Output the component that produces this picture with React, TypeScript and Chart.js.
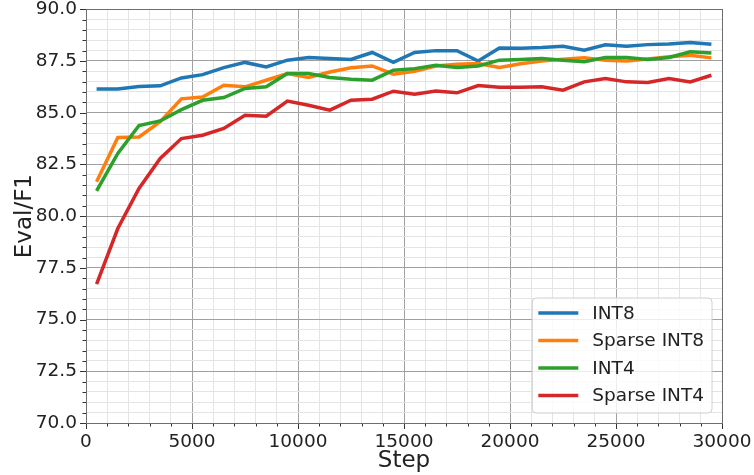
import React, { useEffect, useRef } from 'react';
import { Chart, registerables } from 'chart.js';

Chart.register(...registerables);

const steps = [500, 1500, 2500, 3500, 4500, 5500, 6500, 7500, 8500, 9500, 10500, 11500, 12500, 13500, 14500, 15500, 16500, 17500, 18500, 19500, 20500, 21500, 22500, 23500, 24500, 25500, 26500, 27500, 28500, 29500];

const int8 = [86.14, 86.14, 86.27, 86.3, 86.68, 86.84, 87.18, 87.43, 87.21, 87.54, 87.67, 87.62, 87.57, 87.91, 87.43, 87.91, 88.0, 88.0, 87.5, 88.13, 88.12, 88.15, 88.21, 88.02, 88.28, 88.21, 88.29, 88.32, 88.39, 88.31];
const sparseInt8 = [81.66, 83.8, 83.83, 84.56, 85.67, 85.76, 86.33, 86.25, 86.57, 86.89, 86.7, 86.97, 87.17, 87.26, 86.86, 87.0, 87.26, 87.34, 87.38, 87.18, 87.37, 87.5, 87.58, 87.65, 87.54, 87.5, 87.6, 87.7, 87.78, 87.65];
const int4 = [81.22, 83.03, 84.38, 84.6, 85.15, 85.6, 85.73, 86.17, 86.25, 86.89, 86.89, 86.7, 86.62, 86.57, 87.05, 87.13, 87.29, 87.18, 87.26, 87.54, 87.57, 87.62, 87.54, 87.46, 87.67, 87.67, 87.57, 87.67, 87.94, 87.89];
const sparseInt4 = [76.71, 79.4, 81.34, 82.79, 83.75, 83.91, 84.24, 84.88, 84.83, 85.56, 85.36, 85.12, 85.6, 85.65, 86.04, 85.89, 86.05, 85.96, 86.31, 86.23, 86.23, 86.25, 86.09, 86.49, 86.65, 86.49, 86.46, 86.65, 86.49, 86.81];

const seriesNames = ['INT8', 'Sparse INT8', 'INT4', 'Sparse INT4'];
const seriesColors = ['#1f77b4', '#ff7f0e', '#2ca02c', '#d62728'];
const seriesValues = [int8, sparseInt8, int4, sparseInt4];

const xTickLabels = ['0', '5000', '10000', '15000', '20000', '25000', '30000'];
const yTickLabels = ['70.0', '72.5', '75.0', '77.5', '80.0', '82.5', '85.0', '87.5', '90.0'];

const FONT = '"DejaVu Sans", sans-serif';
const TICK_SIZE = 18.5;

const isMultiple = (v: number, m: number) => Math.abs(v / m - Math.round(v / m)) < 1e-6;

const decorPlugin = {
  id: 'decor',
  afterDraw(chart: any) {
    const { ctx, chartArea: a, scales } = chart;
    ctx.save();
    ctx.strokeStyle = '#333';
    ctx.lineWidth = 1;
    scales.x.ticks.forEach((t: any) => {
      const p = Math.round(scales.x.getPixelForValue(t.value)) + 0.5;
      const len = isMultiple(t.value, 5000) ? 6 : 3.5;
      ctx.beginPath();
      ctx.moveTo(p, a.bottom);
      ctx.lineTo(p, a.bottom + len);
      ctx.stroke();
    });
    scales.y.ticks.forEach((t: any) => {
      const p = Math.round(scales.y.getPixelForValue(t.value)) + 0.5;
      const len = isMultiple(t.value, 2.5) ? 6 : 3.5;
      ctx.beginPath();
      ctx.moveTo(a.left, p);
      ctx.lineTo(a.left - len, p);
      ctx.stroke();
    });
    ctx.strokeStyle = '#6e6e6e';
    ctx.strokeRect(Math.round(a.left) + 0.5, Math.round(a.top) + 0.5, Math.round(a.right - a.left), Math.round(a.bottom - a.top));

    ctx.font = `${TICK_SIZE}px ${FONT}`;
    const datasets = chart.data.datasets;
    let maxW = 0;
    datasets.forEach((d: any) => { maxW = Math.max(maxW, ctx.measureText(d.label).width); });
    const boxW = 60 + maxW + 8;
    const rowH = 27.5;
    const boxH = rowH * datasets.length + 5;
    const bx = a.right - 10 - boxW;
    const by = a.bottom - 10 - boxH;
    const r = 4;
    ctx.beginPath();
    ctx.moveTo(bx + r, by);
    ctx.lineTo(bx + boxW - r, by);
    ctx.quadraticCurveTo(bx + boxW, by, bx + boxW, by + r);
    ctx.lineTo(bx + boxW, by + boxH - r);
    ctx.quadraticCurveTo(bx + boxW, by + boxH, bx + boxW - r, by + boxH);
    ctx.lineTo(bx + r, by + boxH);
    ctx.quadraticCurveTo(bx, by + boxH, bx, by + boxH - r);
    ctx.lineTo(bx, by + r);
    ctx.quadraticCurveTo(bx, by, bx + r, by);
    ctx.closePath();
    ctx.fillStyle = 'rgba(255,255,255,0.8)';
    ctx.fill();
    ctx.strokeStyle = '#d0d0d0';
    ctx.stroke();
    ctx.textBaseline = 'middle';
    ctx.textAlign = 'left';
    datasets.forEach((d: any, i: number) => {
      const cy = by + 15 + i * rowH;
      ctx.strokeStyle = d.borderColor;
      ctx.lineWidth = 3.5;
      ctx.beginPath();
      ctx.moveTo(bx + 6, cy);
      ctx.lineTo(bx + 46, cy);
      ctx.stroke();
      ctx.fillStyle = '#222';
      ctx.fillText(d.label, bx + 60, cy + 1);
    });
    ctx.restore();
  },
};

export default function App() {
  const ref = useRef<HTMLCanvasElement | null>(null);

  useEffect(() => {
    if (!ref.current) return;
    const datasets = seriesNames.map((name, i) => ({
      label: name,
      data: steps.map((s, j) => ({ x: s, y: seriesValues[i][j] })),
      borderColor: seriesColors[i],
      backgroundColor: seriesColors[i],
      borderWidth: 3.5,
      pointRadius: 0,
      tension: 0,
      fill: false,
      order: seriesNames.length - i,
    }));
    const chart = new Chart(ref.current, {
      type: 'line',
      data: { datasets },
      plugins: [decorPlugin],
      options: {
        animation: false,
        responsive: false,
        devicePixelRatio: 1,
        layout: { padding: { top: 0, right: 32, left: 0, bottom: 0 } },
        plugins: { legend: { display: false }, tooltip: { enabled: false } },
        scales: {
          x: {
            type: 'linear',
            min: 0,
            max: 30000,
            border: { display: false },
            grid: {
              drawTicks: true,
              tickLength: 8,
              tickColor: 'rgba(0,0,0,0)',
              color: (c: any) => (isMultiple(c.tick.value, 5000) ? '#a0a0a0' : '#e4e4e4'),
            },
            ticks: {
              stepSize: 1000,
              autoSkip: false,
              maxRotation: 0,
              padding: 0,
              color: '#222',
              font: { family: FONT, size: TICK_SIZE },
              callback: (v: any) => {
                const n = Number(v);
                return isMultiple(n, 5000) ? xTickLabels[Math.round(n / 5000)] : '';
              },
            },
            title: {
              display: true,
              text: 'Step',
              color: '#222',
              font: { family: FONT, size: 23 },
              padding: { top: 0, bottom: 0 },
            },
            afterFit: (s: any) => { s.height = 52; },
          },
          y: {
            type: 'linear',
            min: 70,
            max: 90,
            border: { display: false },
            grid: {
              drawTicks: true,
              tickLength: 9,
              tickColor: 'rgba(0,0,0,0)',
              color: (c: any) => (isMultiple(c.tick.value, 2.5) ? '#a0a0a0' : '#e4e4e4'),
            },
            ticks: {
              stepSize: 0.5,
              autoSkip: false,
              padding: 0,
              color: '#222',
              font: { family: FONT, size: TICK_SIZE, lineHeight: 1.0 },
              callback: (v: any) => {
                const n = Number(v);
                return isMultiple(n, 2.5) ? yTickLabels[Math.round((n - 70) / 2.5)] : '';
              },
            },
            title: {
              display: true,
              text: 'Eval/F1',
              color: '#222',
              font: { family: FONT, size: 23 },
              padding: { top: 11, bottom: 0 },
            },
            afterFit: (s: any) => { s.width = 86; },
          },
        },
      },
    } as any);
    return () => chart.destroy();
  }, []);

  return (
    <div style={{ position: 'absolute', left: 0, top: 0, width: 754, height: 475 }}>
      <canvas ref={ref} width={754} height={475} />
    </div>
  );
}
